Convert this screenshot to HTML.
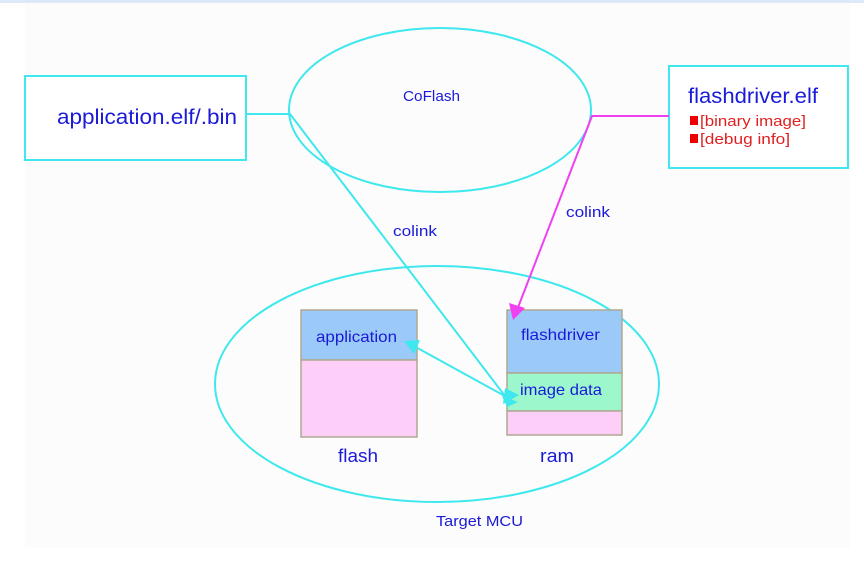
<!DOCTYPE html>
<html><head><style>
body{margin:0;width:864px;height:571px;background:#fff;overflow:hidden}
</style></head><body>
<svg width="864" height="571" xmlns="http://www.w3.org/2000/svg" font-family="Liberation Sans, sans-serif">
<rect x="0" y="0" width="864" height="571" fill="#fff"/>
<rect x="0" y="0" width="864" height="3" fill="#dde8f8"/>
<rect x="25" y="3" width="825" height="545" fill="#fcfcfc"/>
<rect x="25" y="76" width="221" height="84" fill="#fff" stroke="#3ee8ee" stroke-width="2"/>
<text x="57" y="124" font-size="21" fill="#1a1ad8" textLength="180" lengthAdjust="spacingAndGlyphs">application.elf/.bin</text>
<ellipse cx="440" cy="110" rx="151" ry="82" fill="none" stroke="#3ee8ee" stroke-width="2"/>
<text x="403" y="101" font-size="15" fill="#1a1ad8" textLength="57" lengthAdjust="spacingAndGlyphs">CoFlash</text>
<rect x="669" y="66" width="179" height="102" fill="#fff" stroke="#3ee8ee" stroke-width="2"/>
<text x="688" y="103" font-size="21" fill="#1a1ad8" textLength="130" lengthAdjust="spacingAndGlyphs">flashdriver.elf</text>
<rect x="690" y="116" width="8" height="9" fill="#e00"/>
<text x="700" y="126" font-size="15" fill="#e02020" textLength="106" lengthAdjust="spacingAndGlyphs">[binary image]</text>
<rect x="690" y="134" width="8" height="9" fill="#e00"/>
<text x="700" y="144" font-size="15" fill="#e02020" textLength="90" lengthAdjust="spacingAndGlyphs">[debug info]</text>
<ellipse cx="437" cy="384" rx="222" ry="118" fill="none" stroke="#3ee8ee" stroke-width="2"/>
<text x="436" y="526" font-size="15" fill="#1a1ad8" textLength="87" lengthAdjust="spacingAndGlyphs">Target MCU</text>
<rect x="301" y="310" width="116" height="50" fill="#9ccaf8" stroke="#b0a890" stroke-width="1.5"/>
<rect x="301" y="360" width="116" height="77" fill="#fccef8" stroke="#b0a890" stroke-width="1.5"/>
<text x="316" y="342" font-size="16" fill="#1a1ad8" textLength="81" lengthAdjust="spacingAndGlyphs">application</text>
<text x="338" y="462" font-size="18" fill="#1a1ad8" textLength="40" lengthAdjust="spacingAndGlyphs">flash</text>
<rect x="507" y="310" width="115" height="63" fill="#9ccaf8" stroke="#b0a890" stroke-width="1.5"/>
<rect x="507" y="373" width="115" height="38" fill="#9cf8cc" stroke="#b0a890" stroke-width="1.5"/>
<rect x="507" y="411" width="115" height="24" fill="#fccef8" stroke="#b0a890" stroke-width="1.5"/>
<text x="521" y="340" font-size="16" fill="#1a1ad8" textLength="79" lengthAdjust="spacingAndGlyphs">flashdriver</text>
<text x="520" y="395" font-size="16" fill="#1a1ad8" textLength="82" lengthAdjust="spacingAndGlyphs">image data</text>
<text x="540" y="462" font-size="18" fill="#1a1ad8" textLength="34" lengthAdjust="spacingAndGlyphs">ram</text>
<polyline points="246,114 290,114 505,396" fill="none" stroke="#3ee8ee" stroke-width="2"/>
<line x1="412" y1="345" x2="512" y2="400" stroke="#3ee8ee" stroke-width="2"/>
<polygon points="404,341 420,340 414,354" fill="#3ee8ee"/>
<polygon points="518,402 502,396 507,407" fill="#3ee8ee"/>
<polygon points="519,395 505,388 503,404" fill="#3ee8ee"/>
<text x="393" y="236" font-size="15" fill="#1a1ad8" textLength="44" lengthAdjust="spacingAndGlyphs">colink</text>
<polyline points="669,116 592,116 517,310" fill="none" stroke="#f040f0" stroke-width="2"/>
<polygon points="513,320 509,303 525,308" fill="#f040f0"/>
<text x="566" y="217" font-size="15" fill="#1a1ad8" textLength="44" lengthAdjust="spacingAndGlyphs">colink</text>
</svg>
</body></html>
